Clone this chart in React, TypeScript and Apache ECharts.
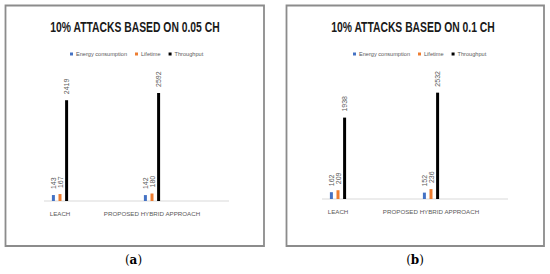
import React, { useEffect, useRef } from "react";
import * as echarts from "echarts";

const categories = ["LEACH", "PROPOSED HYBRID APPROACH"];
const seriesNames = ["Energy consumption", "Lifetime", "Throughput"];
const seriesColors = ["#4472C4", "#ED7D31", "#000000"];

// (a) 10% attacks based on 0.05 CH
const energyA = [143, 142];
const lifetimeA = [167, 180];
const throughputA = [2419, 2592];

// (b) 10% attacks based on 0.1 CH
const energyB = [162, 152];
const lifetimeB = [209, 236];
const throughputB = [1938, 2532];

const titleA = "10% ATTACKS BASED ON 0.05 CH";
const titleB = "10% ATTACKS BASED ON 0.1 CH";

const SANS = '"Liberation Sans", Arial, sans-serif';

export default function App() {
  const ref = useRef<HTMLDivElement>(null);

  useEffect(() => {
    if (!ref.current) return;
    const chart = echarts.init(ref.current, undefined, { renderer: "svg" });

    const mkSeries = (gridIdx: number, data: number[][]) =>
      data.map((d, i) => ({
        name: seriesNames[i],
        type: "bar",
        xAxisIndex: gridIdx,
        yAxisIndex: gridIdx,
        data: d,
        barWidth: 3,
        barGap: "120%",
        itemStyle: { color: seriesColors[i] },
        label: {
          show: true,
          position: "top",
          rotate: 90,
          align: "left",
          verticalAlign: "middle",
          distance: 6,
          fontSize: 7,
          color: "#595959",
          fontFamily: SANS,
        },
      }));

    const xAxisBase = {
      type: "category",
      data: categories,
      axisLine: { show: false },
      axisTick: { show: false },
      axisLabel: {
        fontSize: 6.2,
        color: "#595959",
        margin: 9,
        fontFamily: SANS,
        interval: 0,
      },
    };
    const yAxisBase = {
      type: "value",
      min: 0,
      max: 3000,
      show: false,
      splitLine: { show: false },
    };

    const legendBase = {
      orient: "horizontal",
      itemWidth: 3,
      itemHeight: 3,
      itemGap: 8,
      icon: "rect",
      textStyle: { fontSize: 5.6, color: "#595959", fontFamily: SANS, padding: [0, 0, 0, -2] },
      data: seriesNames,
    };

    const titleStyle = (text: string) => ({
      text,
      fontSize: 14,
      fontWeight: "bold",
      fontFamily: SANS,
      fill: "#1a1a1a",
      align: "center",
      verticalAlign: "middle",
    });

    const panelLabel = (letter: string) => ({
      text: "({a|" + letter + "})",
      rich: { a: { fontWeight: "bold", fontSize: 12, fontFamily: '"DejaVu Serif", serif', fill: "#000" } },
      fontSize: 12,
      fontFamily: '"DejaVu Serif", serif',
      fill: "#000",
      align: "center",
      verticalAlign: "middle",
    });

    chart.setOption({
      animation: false,
      backgroundColor: "#ffffff",
      legend: [
        { ...legendBase, left: 65, top: 46 },
        { ...legendBase, left: 348, top: 46 },
      ],
      grid: [
        { left: 14, width: 184, top: 76, height: 125 },
        { left: 291.5, width: 186, top: 73, height: 126 },
      ],
      xAxis: [
        { ...xAxisBase, gridIndex: 0 },
        { ...xAxisBase, gridIndex: 1 },
      ],
      yAxis: [
        { ...yAxisBase, gridIndex: 0 },
        { ...yAxisBase, gridIndex: 1 },
      ],
      series: [
        ...mkSeries(0, [energyA, lifetimeA, throughputA]),
        ...mkSeries(1, [energyB, lifetimeB, throughputB]),
      ],
      graphic: [
        {
          type: "rect",
          shape: { x: 5.5, y: 5.5, width: 258.5, height: 240.5 },
          style: { fill: "none", stroke: "#8c8c8c", lineWidth: 1.8 },
          silent: true,
        },
        {
          type: "rect",
          shape: { x: 286.5, y: 5.5, width: 257.5, height: 240.5 },
          style: { fill: "none", stroke: "#8c8c8c", lineWidth: 1.8 },
          silent: true,
        },
        {
          type: "line",
          shape: { x1: 44, y1: 201, x2: 229, y2: 201 },
          style: { stroke: "#d9d9d9", lineWidth: 1 },
          silent: true,
        },
        {
          type: "line",
          shape: { x1: 322, y1: 199, x2: 508, y2: 199 },
          style: { stroke: "#d9d9d9", lineWidth: 1 },
          silent: true,
        },
        { type: "text", x: 135, y: 27, scaleX: 0.74, style: titleStyle(titleA) },
        { type: "text", x: 413, y: 27, scaleX: 0.74, style: titleStyle(titleB) },
        { type: "text", x: 133.5, y: 260, style: panelLabel("a") },
        { type: "text", x: 415, y: 260, style: panelLabel("b") },
      ],
    });

    return () => chart.dispose();
  }, []);

  return (
    <div
      ref={ref}
      style={{ position: "fixed", left: 0, top: 0, width: 550, height: 274, background: "#fff" }}
    />
  );
}
